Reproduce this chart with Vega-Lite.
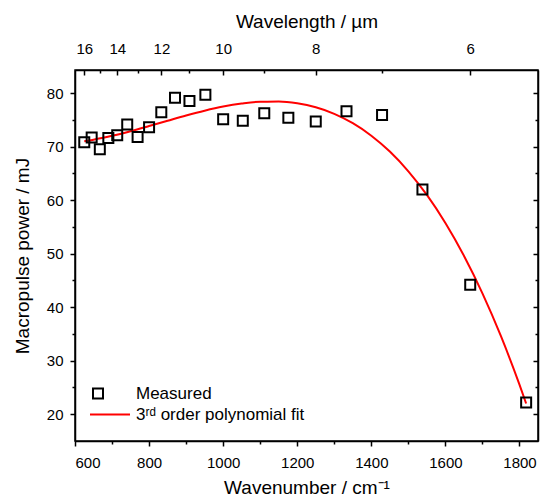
{
  "$schema": "https://vega.github.io/schema/vega-lite/v6.json",
  "width": 463,
  "height": 371,
  "autosize": {"type": "none"},
  "padding": {"left": 75, "top": 70, "right": 3, "bottom": 59},
  "background": "white",
  "config": {
    "font": "Liberation Sans",
    "view": {"stroke": "black", "strokeWidth": 1.5},
    "axis": {
      "grid": false,
      "domainColor": "black",
      "domainWidth": 1.5,
      "tickColor": "black",
      "tickWidth": 1.5,
      "labelColor": "black",
      "titleColor": "black",
      "labelFont": "Liberation Sans",
      "titleFont": "Liberation Sans",
      "labelFontSize": 15,
      "titleFontSize": 19,
      "titleFontWeight": "normal"
    },
    "legend": {
      "labelFont": "Liberation Sans",
      "labelFontSize": 17,
      "labelColor": "black",
      "labelLimit": 400
    }
  },
  "datasets": {
    "measured": [
      {"wn": 625, "p": 70.8, "series": "Measured"},
      {"wn": 645, "p": 71.7, "series": "Measured"},
      {"wn": 667, "p": 69.5, "series": "Measured"},
      {"wn": 690, "p": 71.6, "series": "Measured"},
      {"wn": 714, "p": 72.1, "series": "Measured"},
      {"wn": 741, "p": 74.1, "series": "Measured"},
      {"wn": 769, "p": 71.8, "series": "Measured"},
      {"wn": 800, "p": 73.6, "series": "Measured"},
      {"wn": 833, "p": 76.4, "series": "Measured"},
      {"wn": 870, "p": 79.1, "series": "Measured"},
      {"wn": 909, "p": 78.5, "series": "Measured"},
      {"wn": 952, "p": 79.7, "series": "Measured"},
      {"wn": 1000, "p": 75.1, "series": "Measured"},
      {"wn": 1053, "p": 74.8, "series": "Measured"},
      {"wn": 1111, "p": 76.2, "series": "Measured"},
      {"wn": 1176, "p": 75.4, "series": "Measured"},
      {"wn": 1250, "p": 74.7, "series": "Measured"},
      {"wn": 1333, "p": 76.6, "series": "Measured"},
      {"wn": 1429, "p": 75.9, "series": "Measured"},
      {"wn": 1538, "p": 62.0, "series": "Measured"},
      {"wn": 1667, "p": 44.2, "series": "Measured"},
      {"wn": 1818, "p": 22.2, "series": "Measured"}
    ],
    "fit": [
      {"wn": 625, "p": 71.0, "series": "3ʳᵈ order polynomial fit"},
      {"wn": 650, "p": 71.28, "series": "3ʳᵈ order polynomial fit"},
      {"wn": 700, "p": 72.0, "series": "3ʳᵈ order polynomial fit"},
      {"wn": 750, "p": 72.87, "series": "3ʳᵈ order polynomial fit"},
      {"wn": 800, "p": 73.83, "series": "3ʳᵈ order polynomial fit"},
      {"wn": 850, "p": 74.82, "series": "3ʳᵈ order polynomial fit"},
      {"wn": 900, "p": 75.8, "series": "3ʳᵈ order polynomial fit"},
      {"wn": 950, "p": 76.7, "series": "3ʳᵈ order polynomial fit"},
      {"wn": 1000, "p": 77.47, "series": "3ʳᵈ order polynomial fit"},
      {"wn": 1050, "p": 78.04, "series": "3ʳᵈ order polynomial fit"},
      {"wn": 1100, "p": 78.38, "series": "3ʳᵈ order polynomial fit"},
      {"wn": 1150, "p": 78.4, "series": "3ʳᵈ order polynomial fit"},
      {"wn": 1200, "p": 78.07, "series": "3ʳᵈ order polynomial fit"},
      {"wn": 1250, "p": 77.33, "series": "3ʳᵈ order polynomial fit"},
      {"wn": 1300, "p": 76.11, "series": "3ʳᵈ order polynomial fit"},
      {"wn": 1350, "p": 74.36, "series": "3ʳᵈ order polynomial fit"},
      {"wn": 1400, "p": 72.03, "series": "3ʳᵈ order polynomial fit"},
      {"wn": 1450, "p": 69.06, "series": "3ʳᵈ order polynomial fit"},
      {"wn": 1500, "p": 65.38, "series": "3ʳᵈ order polynomial fit"},
      {"wn": 1550, "p": 60.96, "series": "3ʳᵈ order polynomial fit"},
      {"wn": 1600, "p": 55.72, "series": "3ʳᵈ order polynomial fit"},
      {"wn": 1650, "p": 49.61, "series": "3ʳᵈ order polynomial fit"},
      {"wn": 1700, "p": 42.58, "series": "3ʳᵈ order polynomial fit"},
      {"wn": 1750, "p": 34.57, "series": "3ʳᵈ order polynomial fit"},
      {"wn": 1800, "p": 25.52, "series": "3ʳᵈ order polynomial fit"},
      {"wn": 1818, "p": 22.0, "series": "3ʳᵈ order polynomial fit"}
    ]
  },
  "resolve": {"axis": {"x": "independent", "y": "independent"}},
  "layer": [
    {
      "data": {"name": "fit"},
      "mark": {"type": "line", "strokeWidth": 2, "interpolate": "monotone"},
      "encoding": {
        "x": {"field": "wn", "type": "quantitative",
          "scale": {"domain": [600, 1850], "nice": false, "zero": false},
          "axis": {"orient": "bottom", "values": [700, 900, 1100, 1300, 1500, 1700], "labels": false, "tickSize": 3, "domain": false, "title": null}},
        "y": {"field": "p", "type": "quantitative",
          "scale": {"domain": [15, 84.3], "nice": false, "zero": false},
          "axis": {"orient": "left", "values": [25, 35, 45, 55, 65, 75], "labels": false, "tickSize": 3, "domain": false, "title": null}},
        "color": {"field": "series", "type": "nominal",
          "scale": {"domain": ["Measured", "3ʳᵈ order polynomial fit"], "range": ["black", "#ff0000"]},
          "legend": {"orient": "none", "legendX": 17, "legendY": 315, "title": null, "padding": 0, "symbolSize": 100, "symbolStrokeWidth": 2, "labelOffset": 27, "rowPadding": 2,
            "encode": {"symbols": {"update": {"x": {"signal": "datum.value === 'Measured' ? 6 : 18"}}}}}}
      }
    },
    {
      "data": {"name": "measured"},
      "mark": {"type": "point", "shape": "square", "filled": false, "strokeWidth": 2, "size": 100, "opacity": 1},
      "encoding": {
        "x": {"field": "wn", "type": "quantitative",
          "scale": {"domain": [600, 1850], "nice": false, "zero": false},
          "axis": {"orient": "bottom", "values": [600, 800, 1000, 1200, 1400, 1600, 1800], "format": "d", "tickSize": 5, "labelPadding": 9, "title": "Wavenumber / cm⁻¹", "titlePadding": 8}},
        "y": {"field": "p", "type": "quantitative",
          "scale": {"domain": [15, 84.3], "nice": false, "zero": false},
          "axis": {"orient": "left", "values": [20, 30, 40, 50, 60, 70, 80], "tickSize": 5, "labelPadding": 7, "title": "Macropulse power / mJ", "titlePadding": 14}},
        "color": {"field": "series", "type": "nominal",
          "scale": {"domain": ["Measured", "3ʳᵈ order polynomial fit"], "range": ["black", "#ff0000"]},
          "legend": {"orient": "none", "legendX": 17, "legendY": 315, "title": null, "padding": 0, "symbolSize": 100, "symbolStrokeWidth": 2, "labelOffset": 27, "rowPadding": 2,
            "encode": {"symbols": {"update": {"x": {"signal": "datum.value === 'Measured' ? 6 : 18"}}}}}},
        "shape": {"field": "series", "type": "nominal",
          "scale": {"domain": ["Measured", "3ʳᵈ order polynomial fit"], "range": ["square", "M-4,0H4"]},
          "legend": {"orient": "none", "legendX": 17, "legendY": 315, "title": null, "padding": 0, "symbolSize": 100, "symbolStrokeWidth": 2, "labelOffset": 27, "rowPadding": 2,
            "encode": {"symbols": {"update": {"x": {"signal": "datum.value === 'Measured' ? 6 : 18"}}}}}}
      }
    },
    {
      "data": {"name": "measured"},
      "mark": {"type": "point", "opacity": 0},
      "encoding": {
        "x": {"field": "wn", "type": "quantitative",
          "scale": {"domain": [600, 1850], "nice": false, "zero": false},
          "axis": {"orient": "top", "values": [625, 714.2857, 833.3333, 1000, 1250, 1666.6667], "labelExpr": "format(10000 / datum.value, '.0f')", "tickSize": -5, "labelPadding": 19, "title": "Wavelength / µm", "titlePadding": 10}},
        "y": {"field": "p", "type": "quantitative",
          "scale": {"domain": [15, 84.3], "nice": false, "zero": false},
          "axis": {"orient": "right", "values": [20, 30, 40, 50, 60, 70, 80], "labels": false, "tickSize": -5, "title": null}}
      }
    },
    {
      "data": {"name": "measured"},
      "mark": {"type": "point", "opacity": 0},
      "encoding": {
        "x": {"field": "wn", "type": "quantitative",
          "scale": {"domain": [600, 1850], "nice": false, "zero": false},
          "axis": {"orient": "top", "values": [666.6667, 769.2308, 909.0909, 1111.1111, 1428.5714], "labels": false, "tickSize": -3, "domain": false, "title": null}},
        "y": {"field": "p", "type": "quantitative",
          "scale": {"domain": [15, 84.3], "nice": false, "zero": false},
          "axis": {"orient": "right", "values": [25, 35, 45, 55, 65, 75], "labels": false, "tickSize": -3, "domain": false, "title": null}}
      }
    }
  ]
}
